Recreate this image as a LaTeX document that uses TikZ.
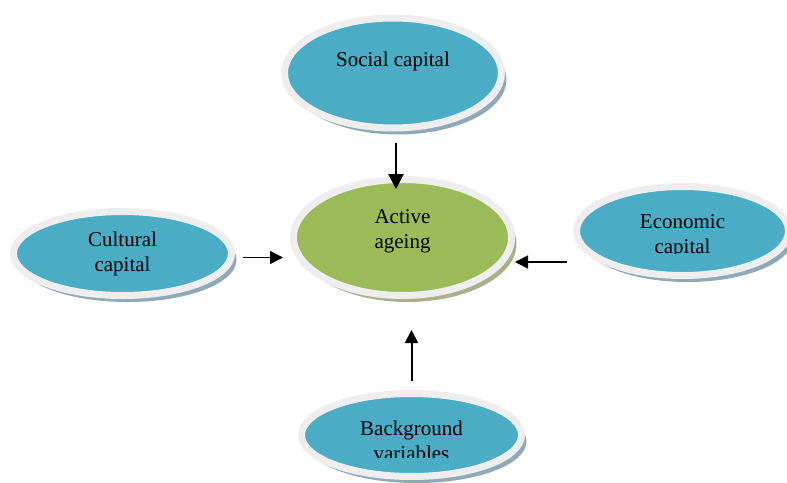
\documentclass[tikz,border=0pt]{standalone}
\usepackage{fontspec}
\setmainfont{Liberation Serif}
\usepackage{xcolor}
\usetikzlibrary{arrows.meta}
\usetikzlibrary{shapes.geometric}
\usetikzlibrary{shadows}
\usetikzlibrary{calc}

\definecolor{capblue}{HTML}{4BACC6}
\definecolor{agegreen}{HTML}{9BBB59}
\definecolor{rimgrey}{HTML}{EEEEEE}
\definecolor{shadeblue}{HTML}{8FAAB6}
\definecolor{shadegreen}{HTML}{ABB08C}

\begin{document}
\begin{tikzpicture}[x=0.5pt,y=-0.5pt,
		bubble/.style={ellipse, draw=rimgrey, line width=3.5pt, inner sep=0pt},
		capital/.style={bubble, fill=capblue, drop shadow={shadow xshift=2.5pt, shadow yshift=-3.25pt, fill=shadeblue, opacity=1}},
		ageing/.style={bubble, fill=agegreen, drop shadow={shadow xshift=2.5pt, shadow yshift=-3.25pt, fill=shadegreen, opacity=1}},
		lbl/.style={align=center, inner sep=0pt, font=\fontsize{10.5pt}{12.5pt}\selectfont},
		flow/.style={-{Triangle[length=6.5pt,width=6.5pt]}, line width=0.8pt},
		bigflow/.style={-{Triangle[length=7.5pt,width=7.5pt]}, line width=1.4pt}]
		
		\useasboundingbox (0,0) rectangle (787,482);
		
		\node[capital, minimum width=108.5pt, minimum height=55pt] (social) at (393,73) {};
		\node[ageing, minimum width=109pt, minimum height=58pt] (active) at (402.5,237.5) {};
		\node[capital, minimum width=109pt, minimum height=42pt] (cultural) at (122.5,253.5) {};
		\node[capital, minimum width=106pt, minimum height=44.5pt] (economic) at (682.5,231) {};
		\node[capital, minimum width=110pt, minimum height=41.5pt] (background) at (411.5,435) {};
		
		\node[lbl] (socialtext) at ([yshift=6pt]social.center) {Social capital};
		\node[lbl] (activetext) at ([yshift=3pt]active.center) {Active\\ageing};
		\node[lbl] (culturaltext) at (cultural.center) {Cultural\\capital};
		\begin{scope}
			\clip (560,180) rectangle (787,253);
			\node[lbl] (economictext) at ([yshift=-2.8pt]economic.center) {Economic\\capital};
		\end{scope}
		\begin{scope}
			\clip (290,380) rectangle (530,457);
			\node[lbl] (backgroundtext) at ([yshift=-3pt]background.center) {Background\\variables};
		\end{scope}
		
		\draw[bigflow, shorten <=5.75pt, shorten >=-6.5pt] ([xshift=1.5pt]social.south) -- ([xshift=1.5pt]social.south |- active.north);
		\draw[flow, shorten <=4pt, shorten >=3.5pt] ([yshift=-2pt]cultural.east) -- ([yshift=-2pt]cultural.east -| active.west);
		\draw[flow, shorten <=3pt] ([yshift=-15.5pt]economic.west) -- ([yshift=-15.5pt]economic.west -| active.east);
		\draw[flow, line width=1pt, shorten <=4.5pt, shorten >=15.5pt] (background.north) -- (background.north |- active.south);
	\end{tikzpicture}
\end{document}
